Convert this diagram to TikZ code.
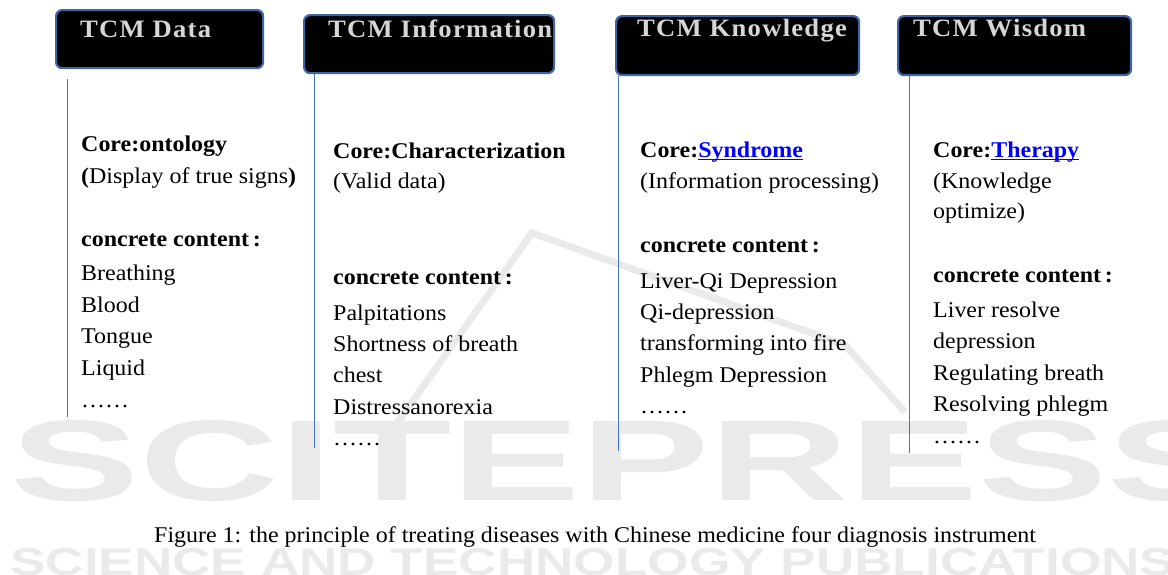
\documentclass[tikz,border=0pt]{standalone}
\usepackage{fontspec}
\setmainfont{Liberation Serif}[FakeStretch=1.065]
\newfontfamily\headfont{Liberation Serif}[FakeStretch=1.065,LetterSpace=5]
\newfontfamily\markfont{Liberation Sans}

\definecolor{boxline}{HTML}{3D65A8}
\definecolor{colline}{HTML}{4472C4}
\definecolor{headtext}{HTML}{D6D6D6}
\definecolor{linkblue}{HTML}{0000FF}
\definecolor{markgray}{HTML}{EAEAEA}

% underlined hyperlink-style word
\newcommand\linkword[1]{{\color{linkblue}\setbox0\hbox{#1}\rlap{\rule[-3pt]{\wd0}{1.4pt}}\box0}}

\tikzset{
  headbox/.style={draw=boxline, line width=2.2pt, fill=black, rounded corners=6pt,
    anchor=north west, inner sep=0pt},
  headlabel/.style={anchor=base west, inner sep=0pt, text=headtext,
    font=\headfont\bfseries\fontsize{25}{30}\selectfont},
  body/.style={anchor=base west, inner sep=0pt, font=\fontsize{22.5}{27}\selectfont},
  strong/.style={anchor=base west, inner sep=0pt, font=\fontsize{22.5}{27}\selectfont\bfseries},
  colrule/.style={draw=colline, line width=1pt},
  presslogo/.style={text=markgray, inner sep=0pt, anchor=base west}
}

\begin{document}
\begin{tikzpicture}[x=1pt,y=-1pt]
\useasboundingbox (0,0) rectangle (1168,574);

% background press mark: roof stroke and lettering
\draw[markgray, line width=7pt, line join=miter]
  (385,440) -- (532,233) -- (845,345) -- (905,412);
\node[presslogo] (wmA) at (10,500) {\resizebox{1225pt}{80pt}{\markfont\bfseries SCITEPRESS}};
\node[presslogo] (wmB) at (10,575) {\resizebox{1165pt}{27pt}{\markfont\bfseries SCIENCE AND TECHNOLOGY PUBLICATIONS}};

% header boxes
\node[headbox, minimum width=207pt, minimum height=58pt] (h1) at (55,9) {};
\node[headbox, minimum width=250pt, minimum height=58pt] (h2) at (303,14) {};
\node[headbox, minimum width=243pt, minimum height=59pt] (h3) at (615,15) {};
\node[headbox, minimum width=233pt, minimum height=59pt] (h4) at (897,15) {};

\node[headlabel] (t1) at (80,37) {TCM Data};
\node[headlabel] (t2) at (328,37) {TCM Information};
\node[headlabel] (t3) at (637,36) {TCM Knowledge};
\node[headlabel] (t4) at (913,36) {TCM Wisdom};

% column rules
\coordinate (e1) at (67,417);
\coordinate (e2) at (314,448);
\coordinate (e3) at (618,451);
\coordinate (e4) at (909,453);
\draw[colrule] ([yshift=-10pt]h1.south -| e1) -- (e1);
\draw[colrule] (h2.south -| e2) -- (e2);
\draw[colrule] (h3.south -| e3) -- (e3);
\draw[colrule] (h4.south -| e4) -- (e4);

% column 1
\node[strong] (a1) at (81,151) {Core:ontology};
\node[body]   (a2) at (81,183) {\textbf{(}Display of true signs\textbf{)}};
\node[strong] (a3) at (81,246) {concrete content\,:};
\node[body]   (a4) at (81,280) {Breathing};
\node[body]   (a5) at (81,312) {Blood};
\node[body]   (a6) at (81,343) {Tongue};
\node[body]   (a7) at (81,375) {Liquid};
\node[body]   (a8) at (81,407) {……};

% column 2
\node[strong] (b1) at (333,158) {Core:Characterization};
\node[body]   (b2) at (333,188) {(Valid data)};
\node[strong] (b3) at (333,284) {concrete content\,:};
\node[body]   (b4) at (333,320) {Palpitations};
\node[body]   (b5) at (333,351) {Shortness of breath};
\node[body]   (b6) at (333,382) {chest};
\node[body]   (b7) at (333,414) {Distressanorexia};
\node[body]   (b8) at (333,445) {……};

% column 3
\node[strong] (c1) at (640,157) {Core:\linkword{Syndrome}};
\node[body]   (c2) at (640,188) {(Information processing)};
\node[strong] (c3) at (640,252) {concrete content\,:};
\node[body]   (c4) at (640,288) {Liver-Qi Depression};
\node[body]   (c5) at (640,319) {Qi-depression};
\node[body]   (c6) at (640,350) {transforming into fire};
\node[body]   (c7) at (640,382) {Phlegm Depression};
\node[body]   (c8) at (640,413) {……};

% column 4
\node[strong] (d1) at (933,157) {Core:\linkword{Therapy}};
\node[body]   (d2) at (933,188) {(Knowledge};
\node[body]   (d3) at (933,218) {optimize)};
\node[strong] (d4) at (933,282) {concrete content\,:};
\node[body]   (d5) at (933,317) {Liver resolve};
\node[body]   (d6) at (933,348) {depression};
\node[body]   (d7) at (933,380) {Regulating breath};
\node[body]   (d8) at (933,411) {Resolving phlegm};
\node[body]   (d9) at (933,443) {……};

% caption
\node[body] (cap) at (154,542) {Figure 1: the principle of treating diseases with Chinese medicine four diagnosis instrument};
\end{tikzpicture}
\end{document}
